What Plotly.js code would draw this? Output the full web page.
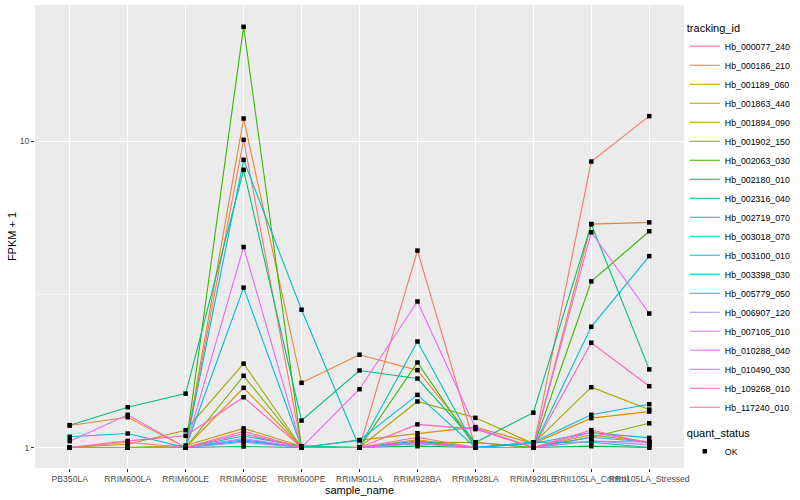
<!DOCTYPE html>
<html><head><meta charset="utf-8">
<script src="https://cdn.plot.ly/plotly-3.0.1.min.js"></script>
<style>html,body{margin:0;padding:0;background:#fff}#chart{width:800px;height:500px}</style>
</head><body><div id="chart"></div>
<script>
// ---- data ----
const sampleNames = ["PB350LA","RRIM600LA","RRIM600LE","RRIM600SE","RRIM600PE","RRIM901LA","RRIM928BA","RRIM928LA","RRIM928LE","RRII105LA_Control","RRII105LA_Stressed"];
const trackingIds = ["Hb_000077_240","Hb_000186_210","Hb_001189_060","Hb_001863_440","Hb_001894_090","Hb_001902_150","Hb_002063_030","Hb_002180_010","Hb_002316_040","Hb_002719_070","Hb_003018_070","Hb_003100_010","Hb_003398_030","Hb_005779_050","Hb_006907_120","Hb_007105_010","Hb_010288_040","Hb_010490_030","Hb_109268_010","Hb_117240_010"];
const seriesColors = ["#F8766D","#EA8331","#D89000","#C09B00","#A3A500","#7CAE00","#39B600","#00BB4E","#00BF7D","#00C1A3","#00BFC4","#00BAE0","#00B0F6","#35A2FF","#9590FF","#C77CFF","#E76BF3","#FA62DB","#FF62BC","#FF6C91"];

const hb_000077_240 = [1, 1, 1, 10.13, 1, 1, 4.40, 1, 1, 8.60, 12.1];
const hb_000186_210 = [1.18, 1.256, 1, 11.89, 1.627, 2.01, 1.79, 1.04, 1.0, 5.37, 5.44];
const hb_001189_060 = [1, 1, 1, 1.567, 1, 1.057, 1.113, 1.166, 1.03, 1.247, 1.31];
const hb_001863_440 = [1, 1, 1.015, 1.155, 1.01, 1, 1.06, 1.0, 1.0, 1.10, 1.04];
const hb_001894_090 = [1, 1.025, 1.139, 1.88, 1, 1, 1.414, 1.25, 1.03, 1.574, 1.33];
const hb_001902_150 = [1, 1, 1, 1.715, 1, 1, 1.04, 1.038, 1.0, 1.08, 1.20];
const hb_002063_030 = [1, 1, 1, 23.7, 1, 1, 1.896, 1.0, 1.0, 3.49, 5.09];
const hb_002180_010 = [1, 1, 1, 1.0075, 1, 1, 1.01, 1, 1, 1.01, 1.0];
const hb_002316_040 = [1.183, 1.354, 1.50, 8.08, 1.225, 1.785, 1.68, 1.038, 1.30, 5.37, 1.80];
const hb_002719_070 = [1, 1, 1, 1.09, 1.01, 1, 1.03, 1, 1.04, 1.04, 1.0];
const hb_003018_070 = [1, 1, 1, 8.71, 2.82, 1, 2.22, 1.0, 1.0, 2.48, 4.22];
const hb_003100_010 = [1.084, 1.111, 1, 3.33, 1, 1.057, 1.486, 1.0, 1.04, 1.279, 1.385];
const hb_003398_030 = [1, 1, 1, 1.05, 1, 1, 1.05, 1, 1.03, 1.12, 1.075];
const hb_005779_050 = [1, 1, 1, 1.06, 1, 1, 1.04, 1, 1, 1.08, 1.04];
const hb_006907_120 = [1, 1, 1, 1.04, 1, 1, 1.03, 1, 1, 1.05, 1.04];
const hb_007105_010 = [1, 1, 1, 1.07, 1, 1, 1.03, 1, 1, 1.05, 1.02];
const hb_010288_040 = [1.049, 1.279, 1, 4.52, 1, 1.55, 3.00, 1.16, 1.0, 5.05, 2.74];
const hb_010490_030 = [1, 1, 1, 1.11, 1, 1, 1.04, 1, 1, 1.12, 1.04];
const hb_109268_010 = [1, 1.051, 1.092, 1.46, 1, 1, 1.19, 1.148, 1.0, 2.20, 1.586];
const hb_117240_010 = [1, 1.04, 1, 1.13, 1, 1, 1.08, 1, 1, 1.14, 1.03];

const allSeries = [hb_000077_240, hb_000186_210, hb_001189_060, hb_001863_440, hb_001894_090,
  hb_001902_150, hb_002063_030, hb_002180_010, hb_002316_040, hb_002719_070, hb_003018_070,
  hb_003100_010, hb_003398_030, hb_005779_050, hb_006907_120, hb_007105_010, hb_010288_040,
  hb_010490_030, hb_109268_010, hb_117240_010];

// ---- traces ----
const FONT = "Liberation Sans, Arial, Helvetica, sans-serif";
const traces = allSeries.map((vals, i) => ({
  type: "scatter", mode: "lines", x: sampleNames, y: vals, name: trackingIds[i],
  line: {color: seriesColors[i], width: 1.1}, legend: "legend", hoverinfo: "x+y+name"
}));
const px = [], py = [];
allSeries.forEach(vals => vals.forEach((v, j) => { px.push(sampleNames[j]); py.push(v); }));
traces.push({
  type: "scatter", mode: "markers", x: px, y: py, name: "OK", legend: "legend2",
  marker: {symbol: "square", size: 4.5, color: "#000000"}
});

const layout = {
  width: 800, height: 500,
  margin: {l: 35, r: 116, t: 5, b: 32, pad: 0},
  paper_bgcolor: "#FFFFFF", plot_bgcolor: "#EBEBEB",
  font: {family: FONT, size: 9, color: "#000000"},
  xaxis: {
    type: "category", categoryarray: sampleNames, range: [-0.6, 10.6],
    showgrid: true, gridcolor: "#FFFFFF", gridwidth: 1.07, zeroline: false, showline: false,
    ticks: "outside", ticklen: 3, tickwidth: 1, tickcolor: "#333333", tickangle: 0,
    automargin: false,
    tickfont: {family: FONT, size: 8.6, color: "#4D4D4D"},
    title: {text: "sample_name", font: {family: FONT, size: 11, color: "#000000"}, standoff: 1}
  },
  yaxis: {
    type: "log", range: [-0.067, 1.446], automargin: false,
    tickvals: [1, 10], ticktext: ["1", "10"],
    showgrid: true, gridcolor: "#FFFFFF", gridwidth: 1.07, zeroline: false, showline: false,
    ticks: "outside", ticklen: 3, tickwidth: 1, tickcolor: "#333333",
    tickfont: {family: FONT, size: 8.6, color: "#4D4D4D"},
    minor: {tickvals: [3.16228], showgrid: true, gridcolor: "#FFFFFF", gridwidth: 0.53, ticks: ""},
    title: {text: "FPKM + 1", font: {family: FONT, size: 11, color: "#000000"}, standoff: 0}
  },
  legend: {
    xref: "container", yref: "container", x: 0.856, y: 0.965, xanchor: "left", yanchor: "top",
    bgcolor: "rgba(0,0,0,0)", itemwidth: 30, tracegroupgap: 0, maxheight: 1000,
    font: {family: FONT, size: 8.8, color: "#000000"},
    title: {text: "tracking_id", font: {family: FONT, size: 11, color: "#000000"}}
  },
  legend2: {
    xref: "container", yref: "container", x: 0.856, y: 0.155, xanchor: "left", yanchor: "top",
    bgcolor: "rgba(0,0,0,0)", itemwidth: 30, maxheight: 1000,
    font: {family: FONT, size: 8.8, color: "#000000"},
    title: {text: "quant_status", font: {family: FONT, size: 11, color: "#000000"}}
  },
  showlegend: true
};

Plotly.newPlot("chart", traces, layout, {displayModeBar: false, staticPlot: true});
</script>
</body></html>
